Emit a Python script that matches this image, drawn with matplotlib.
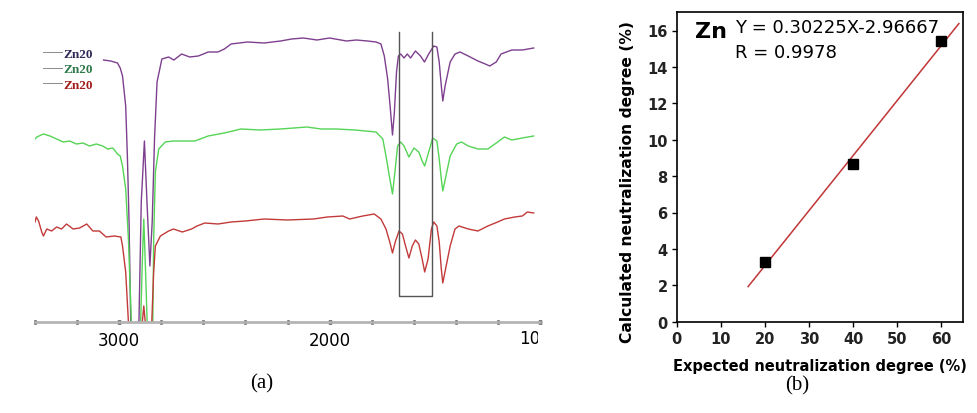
import matplotlib.pyplot as plt
from matplotlib.ticker import MultipleLocator
from matplotlib.transforms import Bbox, TransformedBbox

# (a) FTIR traces, wavenumber (cm-1) vs offset height (arbitrary)
purple_wn = [3074, 3040, 3008, 2995, 2984, 2969, 2961, 2953, 2945, 2930, 2915, 2906,
             2895, 2880, 2867, 2854, 2843, 2832, 2820, 2797, 2765, 2740, 2703, 2665,
             2624, 2600, 2577, 2531, 2500, 2468, 2390, 2310, 2233, 2180, 2124, 2060,
             2000, 1920, 1873, 1820, 1779, 1756, 1740, 1724, 1712, 1701, 1692, 1682,
             1673, 1662, 1646, 1631, 1615, 1592, 1568, 1549, 1529, 1505, 1490, 1479,
             1469, 1462, 1451, 1427, 1404, 1380, 1341, 1295, 1260, 1239, 1208, 1185,
             1160, 1134, 1084, 1030]
purple_h = [262, 261, 259, 254, 246, 216, 166, 100, 0, -40, -40, 0,
            120, 181, 116, 56, 100, 183, 240, 263, 265, 262, 268, 265,
            266, 268, 270, 270, 273, 278, 280, 279, 281, 283, 284, 282,
            284, 281, 282, 281, 280, 278, 266, 243, 215, 187, 210, 250,
            266, 268, 264, 268, 264, 271, 266, 260, 268, 276, 275, 260,
            236, 221, 236, 260, 268, 270, 266, 261, 258, 256, 260, 268,
            270, 272, 272, 274]

green_wn = [3400, 3391, 3360, 3329, 3297, 3266, 3235, 3203, 3172, 3141, 3109, 3078,
            3055, 3030, 3008, 2995, 2984, 2969, 2956, 2942, 2920, 2898, 2890, 2883,
            2876, 2867, 2850, 2842, 2836, 2828, 2812, 2781, 2742, 2703, 2640, 2577,
            2500, 2421, 2330, 2233, 2170, 2108, 2040, 1967, 1880, 1779, 1747, 1732,
            1716, 1701, 1688, 1677, 1662, 1646, 1623, 1599, 1576, 1560, 1548, 1529,
            1510, 1490, 1479, 1469, 1462, 1447, 1427, 1396, 1373, 1341, 1295, 1248,
            1201, 1169, 1134, 1084, 1030]
green_h = [183, 185, 188, 186, 183, 180, 181, 178, 179, 176, 178, 176,
           173, 174, 168, 166, 156, 133, 83, 0, -40, 0, 60, 103,
           60, 0, -40, -40, 83, 150, 173, 180, 181, 181, 181, 186,
           189, 193, 192, 193, 194, 195, 193, 193, 192, 190, 183, 166,
           146, 128, 153, 176, 180, 176, 165, 174, 170, 161, 156, 170,
           184, 181, 163, 143, 131, 146, 166, 178, 180, 176, 173, 173,
           180, 185, 182, 184, 186]

red_wn = [3400, 3394, 3383, 3368, 3360, 3344, 3321, 3297, 3274, 3250, 3219, 3188,
          3154, 3125, 3094, 3062, 3023, 2992, 2984, 2969, 2956, 2930, 2900, 2890,
          2883, 2876, 2860, 2845, 2836, 2828, 2804, 2765, 2742, 2700, 2656, 2630,
          2593, 2530, 2468, 2400, 2311, 2200, 2077, 2010, 1937, 1905, 1842, 1788,
          1756, 1732, 1714, 1701, 1688, 1670, 1654, 1639, 1623, 1607, 1592, 1576,
          1560, 1548, 1532, 1516, 1505, 1490, 1479, 1469, 1462, 1446, 1427, 1404,
          1385, 1341, 1295, 1248, 1201, 1169, 1120, 1084, 1060, 1030]
red_h = [100, 105, 101, 90, 86, 93, 91, 95, 93, 98, 93, 94,
         98, 91, 91, 85, 86, 85, 76, 50, 0, -40, -40, 0,
         16, 0, -40, 0, 50, 76, 86, 91, 93, 90, 93, 96,
         99, 98, 100, 101, 103, 102, 103, 105, 106, 103, 106, 108,
         103, 93, 80, 69, 80, 91, 88, 76, 64, 76, 82, 78,
         63, 50, 63, 93, 100, 96, 80, 53, 39, 56, 76, 93,
         96, 93, 91, 96, 100, 103, 105, 106, 110, 109]

sample_labels = ['Zn20', 'Zn20', 'Zn20']

# (b) neutralization degree
expected = [20, 40, 60]
calculated = [3.3, 8.65, 15.4]
fit_x = [16.2, 64.0]
fit_y = [1.93, 16.38]

fig = plt.figure(figsize=(9.77, 4.14), dpi=100)

# ---- panel (a)
ax1 = fig.add_axes([35/977, 91/414, 505/977, 323/414])
l1, = ax1.plot(purple_wn, purple_h, color='#7d3f8e', lw=1)
l2, = ax1.plot(green_wn, green_h, color='#55d455', lw=1)
l3, = ax1.plot(red_wn, red_h, color='#c23a3a', lw=1)
ax1.plot([1670, 1670, 1513, 1513], [290, 26, 26, 290], color='#555555', lw=1)
ax1.set_xlim(3400, 1030)
ax1.set_ylim(0, 323)
for s in ['top', 'left', 'right']:
    ax1.spines[s].set_visible(False)
ax1.spines['bottom'].set_color('#b4b4b4')
ax1.spines['bottom'].set_linewidth(2)
ax1.set_yticks([])
ax1.set_xticks([3000, 2000, 1000])
ax1.set_xticklabels(['3000', '2000', ''])
ax1.xaxis.set_minor_locator(MultipleLocator(200))
ax1.tick_params(axis='x', which='major', direction='inout', length=3.5, width=2.5,
                color='black', pad=5, labelsize=12)
ax1.tick_params(axis='x', which='minor', direction='inout', length=2.5, width=1.8,
                color='black')
t = ax1.text(1000, -7/323, '1000', transform=ax1.get_xaxis_transform(),
             ha='center', va='top', fontsize=12, clip_on=True)
t.set_clip_box(TransformedBbox(Bbox([[0, 0], [538/977, 1]]), fig.transFigure))

leg = ax1.legend([l1, l2, l3], sample_labels, loc='upper left',
                 bbox_to_anchor=(0.015, 0.85), frameon=False, borderpad=0,
                 borderaxespad=0, handlelength=1.5, handletextpad=0.1,
                 labelspacing=0.25,
                 prop={'family': 'Liberation Serif', 'size': 9.5, 'weight': 'bold'},
                 labelcolor=['#2e2a55', '#2f7a4a', '#a31c1c'])
for h in leg.legend_handles:
    h.set_linewidth(0.7)
    h.set_color('#8a8a8a')

# ---- panel (b)
ax2 = fig.add_axes([676.7/977, 91.3/414, 286.6/977, 309.4/414])
ax2.plot(fit_x, fit_y, color='#c03535', lw=1.1)
ax2.plot(expected, calculated, 's', color='black', ms=7.5)
ax2.set_xlim(0, 65)
ax2.set_ylim(0, 17)
ax2.set_xticks([0, 10, 20, 30, 40, 50, 60])
ax2.set_yticks([0, 2, 4, 6, 8, 10, 12, 14, 16])
ax2.tick_params(direction='out', length=3.5, width=1, labelsize=10.5, pad=3)
for lab in ax2.get_xticklabels() + ax2.get_yticklabels():
    lab.set_fontweight('bold')
    lab.set_color('#222222')
for s in ax2.spines.values():
    s.set_linewidth(1.2)
ax2.set_xlabel('Expected neutralization degree (%)', fontsize=10.5,
               fontweight='bold', labelpad=9)
ax2.set_ylabel('Calculated neutralization degree (%)', fontsize=11.2,
               fontweight='bold')
ax2.yaxis.set_label_coords(-0.145, 0.455)
ax2.text(0.064, 0.938, 'Zn', transform=ax2.transAxes, fontsize=16,
         fontweight='bold', va='center', ha='left')
ax2.text(0.203, 0.954, 'Y = 0.30225X-2.96667', transform=ax2.transAxes,
         fontsize=13, va='center', ha='left')
ax2.text(0.203, 0.873, 'R = 0.9978', transform=ax2.transAxes,
         fontsize=13, va='center', ha='left')

fig.text(262/977, 1 - 384/414, '(a)', family='Liberation Serif', fontsize=15,
         ha='center', va='center')
fig.text(797/977, 1 - 386/414, '(b)', family='Liberation Serif', fontsize=15,
         ha='center', va='center')

fig.savefig('out.png', dpi=100)
